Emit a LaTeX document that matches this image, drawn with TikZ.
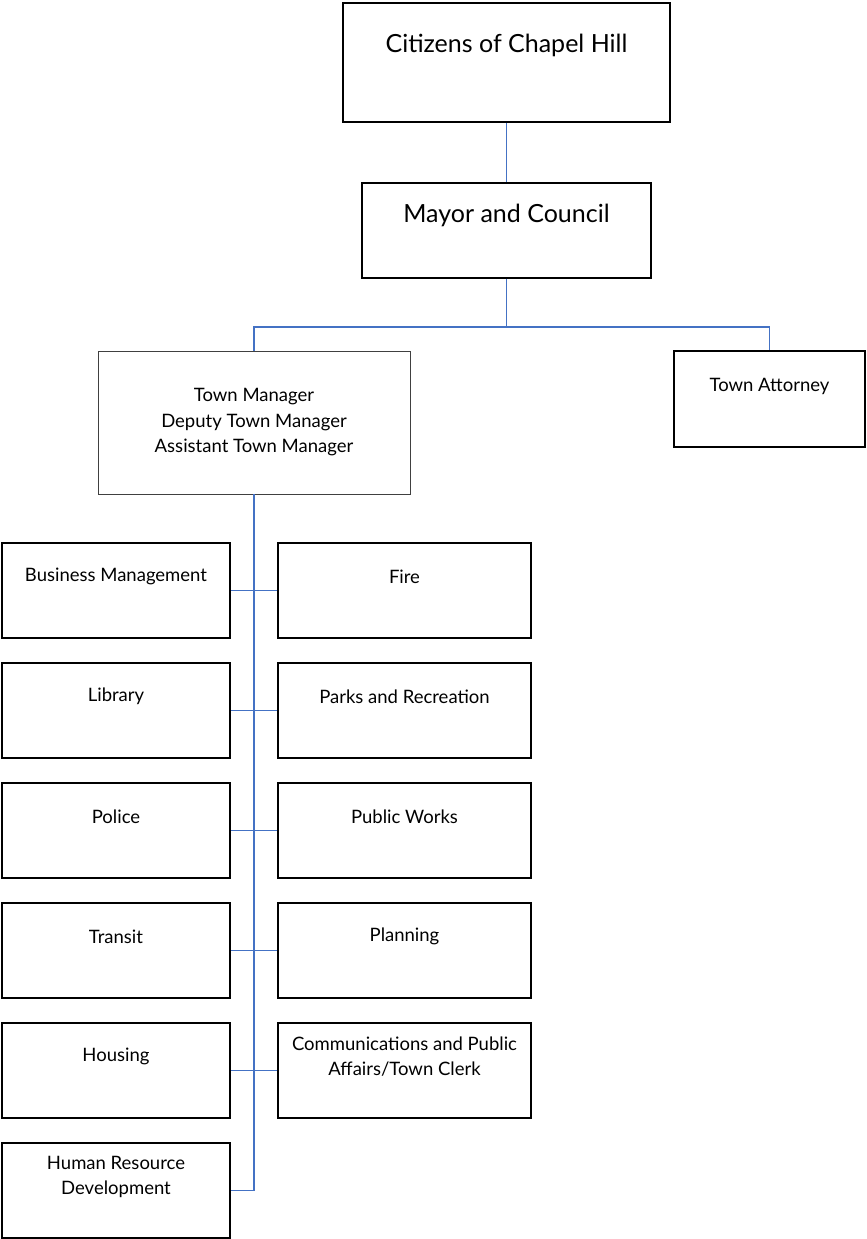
\documentclass[tikz,border=0pt]{standalone}
\usepackage{fontspec}
\setmainfont{Lato}
\usetikzlibrary{positioning}
\definecolor{linkBlue}{RGB}{68,114,196}
\tikzstyle{box}=[rectangle, draw=black, line width=1.5pt, fill=white, inner sep=0pt]
\tikzstyle{mgrBox}=[rectangle, draw=black!75, line width=0.9pt, fill=white, inner sep=0pt,
align=center, font=\fontsize{18.5}{25.5}\selectfont]
\tikzstyle{bigText}=[align=center, inner sep=0pt, font=\fontsize{25}{28}\selectfont]
\tikzstyle{smallText}=[align=center, inner sep=0pt, font=\fontsize{18.5}{25}\selectfont]
\tikzstyle{dept}=[box, minimum height=95pt]
\tikzstyle{deptL}=[dept, minimum width=228pt]
\tikzstyle{deptR}=[dept, minimum width=253pt]
\tikzstyle{link}=[draw=linkBlue, line width=1.8pt]

\begin{document}
\begin{tikzpicture}[x=1pt, y=1pt, node distance=23.5pt]
  \useasboundingbox (0,0) rectangle (867,-1239);
  % top of the chart
  \node(citizens) [box, minimum width=327pt, minimum height=119pt] at (506.5,-62.5) {};
  \node(citizensT) [bigText] at ([yshift=-43pt]citizens.north) {Citizens of Chapel Hill};
  \node(mayor) [box, minimum width=289pt, minimum height=95pt] at (506.5,-230.5) {};
  \node(mayorT) [bigText] at ([yshift=-33pt]mayor.north) {Mayor and Council};
  \draw [link] (citizens) -- (mayor);
  \node(manager) [mgrBox, minimum width=312pt, minimum height=143pt] at (254,-422.5)
    {Town Manager\\Deputy Town Manager\\Assistant Town Manager};
  \node(attorney) [box, minimum width=191pt, minimum height=96pt] at (769.5,-399) {};
  \node(attorneyT) [smallText] at ([yshift=-36pt]attorney.north) {Town Attorney};
  \draw [link] (mayor.south) -- ++(0,-48) -| (manager.north);
  \draw [link] (mayor.south) -- ++(0,-48) -| (attorney.north);
  % departments, left column
  \node(business) [deptL] at (116,-590.5) {};
  \node(library) [deptL, below=of business] {};
  \node(police) [deptL, below=of library] {};
  \node(transit) [deptL, below=of police] {};
  \node(housing) [deptL, below=of transit] {};
  \node(hr) [deptL, below=of housing] {};
  % departments, right column
  \node(fire) [deptR] at (404.5,-590.5) {};
  \node(parks) [deptR, below=of fire] {};
  \node(works) [deptR, below=of parks] {};
  \node(planning) [deptR, below=of works] {};
  \node(comms) [deptR, below=of planning] {};
  % department names
  \node(businessT) [smallText] at ([yshift=-34.5pt]business.north) {Business Management};
  \node(libraryT) [smallText] at ([yshift=-34.5pt]library.north) {Library};
  \node(policeT) [smallText] at ([yshift=-34.5pt]police.north) {Police};
  \node(transitT) [smallText] at ([yshift=-34.5pt]transit.north) {Transit};
  \node(housingT) [smallText] at ([yshift=-34.5pt]housing.north) {Housing};
  \node(hrT) [smallText] at ([yshift=-34.5pt]hr.north) {Human Resource\\Development};
  \node(fireT) [smallText] at ([yshift=-34.5pt]fire.north) {Fire};
  \node(parksT) [smallText] at ([yshift=-34.5pt]parks.north) {Parks and Recreation};
  \node(worksT) [smallText] at ([yshift=-34.5pt]works.north) {Public Works};
  \node(planningT) [smallText] at ([yshift=-34.5pt]planning.north) {Planning};
  \node(commsT) [smallText] at ([yshift=-34.5pt]comms.north) {Communications and Public\\Affairs/Town Clerk};
  % connectors
  \draw [link] (manager.south) |- (hr.east);
  \draw [link] (business.east) -- (fire.west);
  \draw [link] (library.east) -- (parks.west);
  \draw [link] (police.east) -- (works.west);
  \draw [link] (transit.east) -- (planning.west);
  \draw [link] (housing.east) -- (comms.west);
\end{tikzpicture}
\end{document}
